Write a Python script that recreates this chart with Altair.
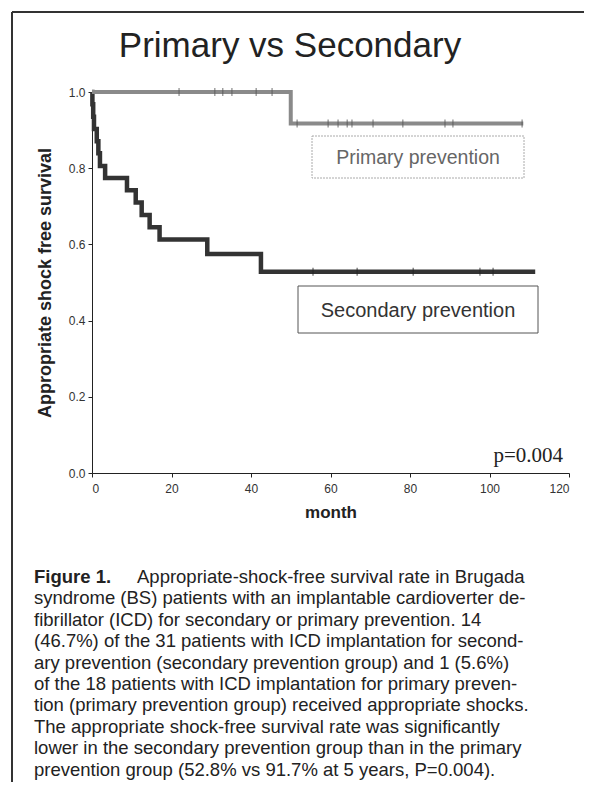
import altair as alt
import pandas as pd

# ---- data ----
primary_month = [0.0, 50.0, 108.5]
primary_surv = [1.0, 0.917, 0.917]

secondary_month = [0.0, 0.1, 0.3, 0.5, 1.2, 1.6, 2.0, 3.3, 8.8, 11.0, 12.5, 14.5, 17.0, 29.0, 42.5, 111.5]
secondary_surv = [1.0, 0.968, 0.935, 0.903, 0.871, 0.839, 0.806, 0.774, 0.742, 0.710, 0.677, 0.645, 0.613, 0.575, 0.528, 0.528]

primary_censor_month = [21.9, 30.9, 32.9, 35.2, 41.3, 45.3, 51.6, 59.4, 61.9, 64.2, 65.4, 70.7, 78.2, 88.8, 90.8, 108.2]
primary_censor_surv = [1.0, 1.0, 1.0, 1.0, 1.0, 1.0, 0.917, 0.917, 0.917, 0.917, 0.917, 0.917, 0.917, 0.917, 0.917, 0.917]

secondary_censor_month = [55.6, 66.7, 80.8, 97.6, 100.9]
secondary_censor_surv = [0.528, 0.528, 0.528, 0.528, 0.528]

x_ticks = [0, 20, 40, 60, 80, 100, 120]
y_ticks = [0.0, 0.2, 0.4, 0.6, 0.8, 1.0]

title_text = "Primary vs Secondary"
label_primary = "Primary prevention"
label_secondary = "Secondary prevention"
p_text = "p=0.004"
caption_bold = "Figure 1."
caption_first = "Appropriate-shock-free survival rate in Brugada"
caption_lines = [
    "syndrome (BS) patients with an implantable cardioverter de-",
    "fibrillator (ICD) for secondary or primary prevention. 14",
    "(46.7%) of the 31 patients with ICD implantation for second-",
    "ary prevention (secondary prevention group) and 1 (5.6%)",
    "of the 18 patients with ICD implantation for primary preven-",
    "tion (primary prevention group) received appropriate shocks.",
    "The appropriate shock-free survival rate was significantly",
    "lower in the secondary prevention group than in the primary",
    "prevention group (52.8% vs 91.7% at 5 years, P=0.004).",
]

FONT = "Liberation Sans, Arial, sans-serif"

W, H = 477, 381

df_p = pd.DataFrame({"month": primary_month, "surv": primary_surv})
df_s = pd.DataFrame({"month": secondary_month, "surv": secondary_surv})
df_pc = pd.DataFrame({"month": primary_censor_month, "surv": primary_censor_surv})
df_sc = pd.DataFrame({"month": secondary_censor_month, "surv": secondary_censor_surv})

xs = alt.Scale(domain=[0, 120], nice=False)
ys = alt.Scale(domain=[0, 1], nice=False)

x_enc = alt.X("month:Q", scale=xs, axis=alt.Axis(
    values=x_ticks, title="month", format="d", grid=False,
    domainColor="#222", tickColor="#222", tickSize=4, labelPadding=6,
    labelFontSize=12, labelColor="#333", labelFont=FONT,
    titleFont=FONT, titleFontSize=17, titleFontWeight="bold", titleColor="#222",
    titlePadding=10))
y_enc = alt.Y("surv:Q", scale=ys, axis=alt.Axis(
    values=y_ticks, title="Appropriate shock free survival", format=".1f", grid=False,
    domainColor="#222", tickColor="#222", tickSize=4, labelPadding=3,
    labelFontSize=12, labelColor="#333", labelFont=FONT,
    titleFont=FONT, titleFontSize=18, titleFontWeight="bold", titleColor="#222",
    titlePadding=14))

sec_line = alt.Chart(df_s).mark_line(interpolate="step-after", color="#333333", strokeWidth=4.5).encode(x=x_enc, y=y_enc)
pri_line = alt.Chart(df_p).mark_line(interpolate="step-after", color="#8a8a8a", strokeWidth=4).encode(x="month:Q", y="surv:Q")
pri_cens = alt.Chart(df_pc).mark_tick(orient="vertical", color="#555", size=8, thickness=1.2).encode(x="month:Q", y="surv:Q")
sec_cens = alt.Chart(df_sc).mark_tick(orient="vertical", color="#222", size=8, thickness=1.2).encode(x="month:Q", y="surv:Q")

one = pd.DataFrame({"a": [0]})

def box(x1, x2, y1, y2, stroke, dash=None):
    kw = dict(fill="white", stroke=stroke, strokeWidth=1)
    if dash:
        kw["strokeDash"] = dash
    return alt.Chart(one).mark_rect(**kw).encode(
        x=alt.value(x1), x2=alt.value(x2), y=alt.value(y1), y2=alt.value(y2))

def label(txt, x, y, size, color, align="center", baseline="middle", font=FONT, weight="normal"):
    return alt.Chart(pd.DataFrame({"t": [txt]})).mark_text(
        fontSize=size, color=color, align=align, baseline=baseline, font=font, fontWeight=weight
    ).encode(x=alt.value(x), y=alt.value(y), text="t:N")

pri_box = box(220, 432, 44, 86, "#aaaaaa", [2, 1])
pri_lab = label(label_primary, 326, 66, 19.5, "#666666")
sec_box = box(206, 446, 194, 241, "#555555")
sec_lab = label(label_secondary, 326, 219, 20, "#333333")
p_lab = label(p_text, 471, 364, 21, "#222222", align="right", font="Liberation Serif, Times New Roman, serif")

title = label(title_text, 198, -35, 35, "#222222", baseline="alphabetic")

border_top = alt.Chart(one).mark_rule(color="#333", strokeWidth=2).encode(
    x=alt.value(-80), x2=alt.value(500), y=alt.value(-80))
border_left = alt.Chart(one).mark_rule(color="#333", strokeWidth=2).encode(
    x=alt.value(-80), y=alt.value(-80), y2=alt.value(700))

CAP_SIZE = 18.5
cap_x = -58
cap_y0 = 485
cap_lh = 21.4
cap_bold = label(caption_bold, cap_x, cap_y0, CAP_SIZE, "#222", align="left", baseline="middle",
                 font="Liberation Sans Narrow, Liberation Sans, Arial, sans-serif", weight="bold")
cap_first = label(caption_first, 45, cap_y0, CAP_SIZE, "#222", align="left", baseline="middle")
cap_rest = alt.Chart(one).mark_text(
    fontSize=CAP_SIZE, color="#222", align="left", baseline="middle", font=FONT, lineHeight=cap_lh
).encode(x=alt.value(cap_x), y=alt.value(cap_y0 + cap_lh), text=alt.value(caption_lines))

chart = alt.layer(
    border_top, border_left, title,
    sec_line, pri_line, pri_cens, sec_cens,
    pri_box, pri_lab, sec_box, sec_lab, p_lab,
    cap_bold, cap_first, cap_rest,
).properties(
    width=W, height=H,
    background="white",
    autosize=alt.AutoSizeParams(type="none"),
    padding={"left": 84, "top": 84, "right": 15, "bottom": 309},
).configure_view(stroke=None)

chart.save("out.html", embed_options={"renderer": "svg", "actions": False})
